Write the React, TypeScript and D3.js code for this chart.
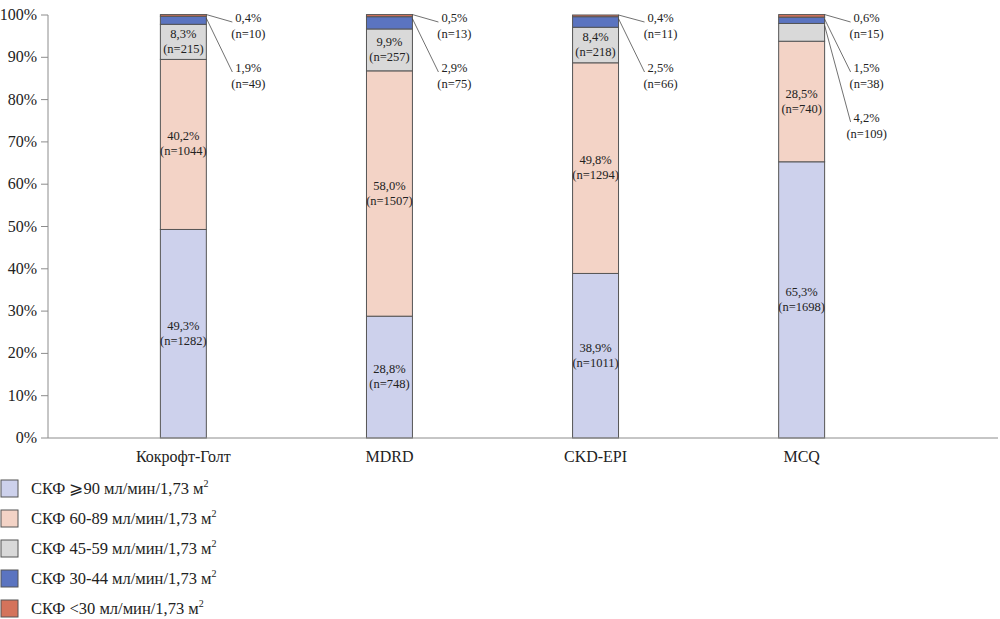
import { FC } from "react";
import * as d3 from "d3";

const WIDTH = 1000;
const HEIGHT = 619;

const methods = ["Кокрофт-Голт", "MDRD", "CKD-EPI", "MCQ"];
const groups = ["g90", "g60", "g45", "g30", "g0"];
const groupLabels = [
  "СКФ ⩾90 мл/мин/1,73 м",
  "СКФ 60-89 мл/мин/1,73 м",
  "СКФ 45-59 мл/мин/1,73 м",
  "СКФ 30-44 мл/мин/1,73 м",
  "СКФ <30 мл/мин/1,73 м",
];
const colors = ["#cdd1ec", "#f3d3c6", "#d9d9d9", "#5b74c0", "#d4735b"];

// percent per method, same order as groups
const percents = [
  [49.3, 40.2, 8.3, 1.9, 0.4],
  [28.8, 58.0, 9.9, 2.9, 0.5],
  [38.9, 49.8, 8.4, 2.5, 0.4],
  [65.3, 28.5, 4.2, 1.5, 0.6],
];
const counts = [
  [1282, 1044, 215, 49, 10],
  [748, 1507, 257, 75, 13],
  [1011, 1294, 218, 66, 11],
  [1698, 740, 109, 38, 15],
];
// which segments are labelled outside the bar with a leader line
const outside = [
  [false, false, false, true, true],
  [false, false, false, true, true],
  [false, false, false, true, true],
  [false, false, true, true, true],
];
const yTicks = [0, 10, 20, 30, 40, 50, 60, 70, 80, 90, 100];

const fmt = (v: number) => v.toFixed(1).replace(".", ",") + "%";

const FONT = "Times New Roman";

const App: FC = () => {
  const x = d3
    .scaleBand<string>()
    .domain(methods)
    .range([80, 905])
    .paddingInner(0.777)
    .paddingOuter(0.39);
  const y = d3.scaleLinear().domain([0, 100]).range([438, 15]);

  const rows = methods.map((m, i) => {
    const r: any = { method: m };
    groups.forEach((g, j) => (r[g] = percents[i][j]));
    return r;
  });
  const series = d3.stack<any>().keys(groups)(rows);

  return (
    <div style={{ position: "absolute", left: 0, top: 0 }}>
      <svg width={WIDTH} height={HEIGHT}>
        <g fontFamily={FONT} fill="#222">
          {/* y axis */}
          <line x1={48} x2={48} y1={y(100)} y2={y(0)} stroke="#8c8c8c" />
          {yTicks.map((t) => (
            <g key={t}>
              <line x1={41} x2={48} y1={y(t)} y2={y(t)} stroke="#8c8c8c" />
              <text x={37} y={y(t) + 5} textAnchor="end" fontSize={16} fontFamily={FONT}>
                {t}%
              </text>
            </g>
          ))}
          {/* bars */}
          {series.map((s, j) => (
            <g key={s.key}>
              {s.map((d, i) => (
                <rect
                  key={i}
                  x={x(methods[i])!}
                  y={y(d[1])}
                  width={x.bandwidth()}
                  height={y(d[0]) - y(d[1])}
                  fill={colors[j]}
                  stroke="#555"
                  strokeWidth={1}
                />
              ))}
            </g>
          ))}
          {/* x axis */}
          <line x1={48} x2={998} y1={y(0)} y2={y(0)} stroke="#8c8c8c" />
          {methods.map((m) => (
            <text
              key={m}
              x={x(m)! + x.bandwidth() / 2}
              y={462}
              textAnchor="middle"
              fontSize={16}
              fontFamily={FONT}
            >
              {m}
            </text>
          ))}
          {/* segment labels */}
          {methods.map((m, i) => {
            const right = x(m)! + x.bandwidth();
            const cx = x(m)! + x.bandwidth() / 2;
            return groups.map((g, j) => {
              const d = series[j][i];
              const mid = (y(d[0]) + y(d[1])) / 2;
              if (!outside[i][j]) {
                return (
                  <text key={g} x={cx} textAnchor="middle" fontSize={12.5} fontFamily={FONT}>
                    <tspan x={cx} y={mid - 4}>
                      {fmt(percents[i][j])}
                    </tspan>
                    <tspan x={cx} y={mid + 11}>
                      (n={counts[i][j]})
                    </tspan>
                  </text>
                );
              }
              // outside labels stacked from the top down
              const slot = groups.length - 1 - j;
              const ly = 22 + slot * 50;
              const lx = right + 42;
              const anchorY = j === groups.length - 1 ? y(d[1]) : y(d[1]) + 2;
              return (
                <g key={g}>
                  <line x1={right} y1={anchorY} x2={right + 26} y2={ly} stroke="#333" strokeWidth={0.7} />
                  <text x={lx} textAnchor="middle" fontSize={12.5} fontFamily={FONT}>
                    <tspan x={lx} y={ly}>
                      {fmt(percents[i][j])}
                    </tspan>
                    <tspan x={lx} y={ly + 16}>
                      (n={counts[i][j]})
                    </tspan>
                  </text>
                </g>
              );
            });
          })}
          {/* legend */}
          {groupLabels.map((l, j) => (
            <g key={l} transform={`translate(0, ${480 + j * 30})`}>
              <rect x={1} y={0} width={17} height={17} fill={colors[j]} stroke="#555" />
              <text x={31} y={14} fontSize={16.5} fontFamily={FONT}>
                {l}
                <tspan fontSize={10} dy={-7}>
                  2
                </tspan>
              </text>
            </g>
          ))}
        </g>
      </svg>
    </div>
  );
};

export default App;
